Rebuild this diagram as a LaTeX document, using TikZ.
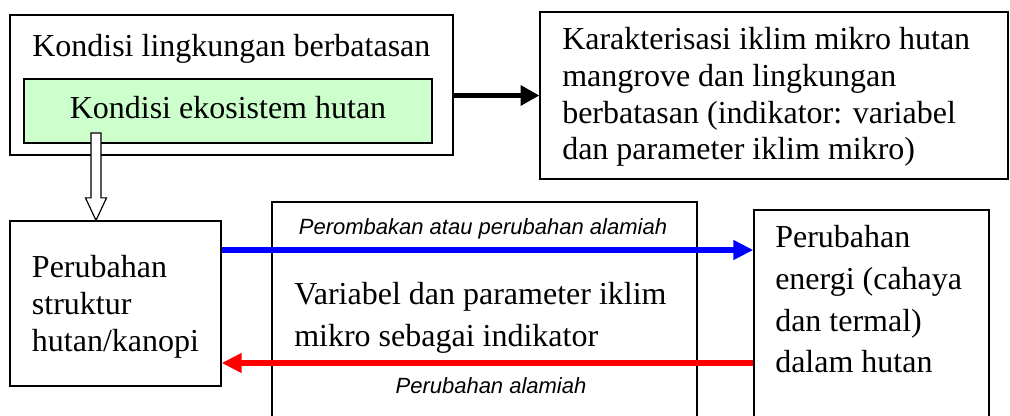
\documentclass[tikz,border=0pt]{standalone}
\usepackage{fontspec}
\setmainfont{Liberation Serif}
\newfontfamily\arialfont{Liberation Sans}
\usetikzlibrary{arrows.meta,calc}
\definecolor{paleGreen}{RGB}{204,255,204}
\tikzset{box/.style={draw, line width=0.9pt, inner sep=0pt}}
\tikzset{txt/.style={anchor=base west, align=left, inner sep=0pt, font=\fontsize{24}{#1}\selectfont}}
\tikzset{txt/.default=27.5pt}
\tikzset{note/.style={anchor=base, inner sep=0pt, font=\arialfont\itshape\fontsize{16.5}{20}\selectfont}}
\tikzset{fatarc/.style={line width=4pt, -{Triangle[length=14pt,width=14.5pt]}}}
\tikzset{flow/.style={line width=4.5pt, #1, -{Triangle[length=15pt,width=14pt]}}}
\tikzset{flow/.default=blue}
\tikzset{hollow/.style={draw, fill=white, line width=0.9pt}}

\begin{document}
\begin{tikzpicture}[x=0.75pt,y=-0.75pt]
\useasboundingbox (0,0) rectangle (1010,416);
% boxes
\node (ling) at (231.5,85)[box, minimum width=332.25pt, minimum height=105pt]{};
\node (eko) at (228,111)[box, fill=paleGreen, minimum width=306pt, minimum height=48pt]{};
\node (kar) at (774,95.5)[box, minimum width=351pt, minimum height=125.25pt]{};
\node (struk) at (115.5,303.5)[box, minimum width=158.25pt, minimum height=123.75pt]{};
\node (var) at (484.5,316)[box, minimum width=318.75pt, minimum height=171pt]{};
\node (energi) at (871.5,320)[box, minimum width=176.25pt, minimum height=165pt]{};
% texts (multi-line: anchored at the last baseline)
\node (lingtext) at (32,56.7)[txt]{Kondisi lingkungan berbatasan};
\node (ekotext) at (228,118.3)[txt, anchor=base]{Kondisi ekosistem hutan};
\node (kartext) at (562,160)[txt]{Karakterisasi iklim mikro hutan\\mangrove dan lingkungan\\berbatasan (indikator: variabel\\dan parameter iklim mikro)};
\node (struktext) at (31.7,351.7)[txt=27.75pt]{Perubahan\\struktur\\hutan/kanopi};
\node (vartext) at (294,347)[txt=31.5pt]{Variabel dan parameter iklim\\mikro sebagai indikator};
\node (energitext) at (775,373)[txt=31.3pt]{Perubahan\\energi (cahaya\\dan termal)\\dalam hutan};
\node (rombak) at (483,235)[note]{Perombakan atau perubahan alamiah};
\node (alami) at (491,393)[note]{Perubahan alamiah};
% arrows
\coordinate (blueY) at (0,250);
\coordinate (redY) at (0,363);
\coordinate (hs) at (96,133);
\coordinate (ht) at (struk.north -| hs);
\draw[fatarc] (ling.east |- kar) -- (kar.west);
\draw[flow] (struk.east |- blueY) -- (energi.west |- blueY);
\draw[flow=red] (energi.west |- redY) -- (struk.east |- redY);
\draw[hollow] ($(hs)+(-5,0)$) -- ($(ht)+(-5,-22.5)$) -- ($(ht)+(-10.5,-22.5)$) -- (ht)
  -- ($(ht)+(10.5,-22.5)$) -- ($(ht)+(5,-22.5)$) -- ($(hs)+(5,0)$) -- cycle;
\end{tikzpicture}
\end{document}
